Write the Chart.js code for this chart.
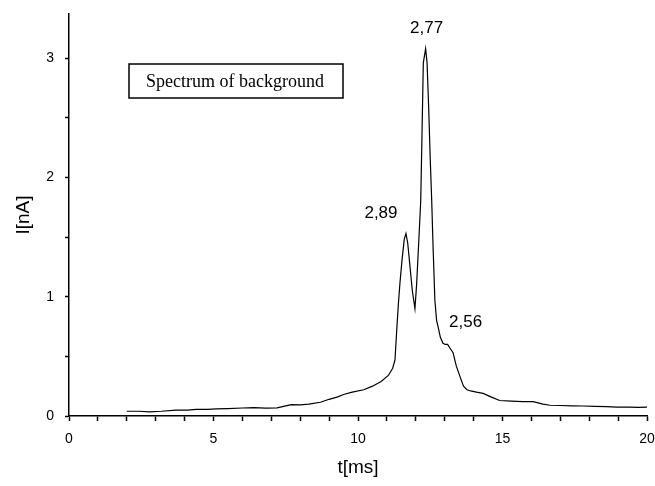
<!DOCTYPE html>
<html>
<head>
<meta charset="utf-8">
<script src="https://cdn.jsdelivr.net/npm/chart.js@4/dist/chart.umd.min.js"></script>
<style>
  html, body { margin: 0; padding: 0; background: #fff; }
  #wrap { width: 655px; height: 486px; }
</style>
</head>
<body>
<div id="wrap"><canvas id="c" width="655" height="486"></canvas></div>
<script>
// time axis values (ms)
const tValues = [2.0,2.4,2.8,3.2,3.7,4.1,4.4,4.8,5.1,5.5,6.0,6.4,6.8,7.2,7.5,7.7,8.0,8.3,8.7,9.0,9.3,9.5,9.8,10.2,10.5,10.8,11.05,11.2,11.28,11.34,11.4,11.45,11.52,11.6,11.66,11.72,11.8,11.88,11.97,12.03,12.1,12.17,12.21,12.26,12.34,12.39,12.45,12.5,12.55,12.6,12.66,12.72,12.77,12.85,12.94,13.02,13.1,13.18,13.29,13.4,13.53,13.65,13.77,13.9,14.1,14.33,14.6,14.9,15.3,15.7,16.06,16.4,16.64,17.0,17.4,17.8,18.2,18.6,18.96,19.4,19.7,20.0];
// current values (nA)
const iValues = [0.04,0.04,0.035,0.04,0.05,0.05,0.056,0.055,0.06,0.062,0.067,0.07,0.066,0.068,0.085,0.095,0.094,0.1,0.115,0.14,0.16,0.18,0.2,0.22,0.25,0.29,0.34,0.4,0.47,0.72,0.95,1.11,1.3,1.48,1.53,1.45,1.25,1.05,0.9,1.11,1.45,1.8,2.3,2.96,3.08,2.96,2.55,2.15,1.81,1.4,0.97,0.8,0.75,0.66,0.61,0.6,0.6,0.57,0.53,0.42,0.33,0.25,0.22,0.21,0.2,0.19,0.16,0.13,0.125,0.12,0.12,0.1,0.09,0.088,0.085,0.084,0.08,0.078,0.075,0.075,0.072,0.075];
// peak annotations
const peakLabels = ['2,77','2,89','2,56'];
const peakT = [12.34, 11.66, 13.1];
const peakI = [3.08, 1.53, 0.60];
// tick values
const xTickValues = [0,1,2,3,4,5,6,7,8,9,10,11,12,13,14,15,16,17,18,19,20];
const xTickLabelValues = [0,5,10,15,20];
const yTickValues = [0,0.5,1,1.5,2,2.5,3];
const yTickLabelValues = [0,1,2,3];
const legendText = 'Spectrum of background';

const points = tValues.map((t, i) => ({x: t, y: iValues[i]}));
const peakOffsets = [[1, -20], [-25, -20], [18, -22]];

const annotPlugin = {
  id: 'annot',
  afterDatasetsDraw(chart) {
    const ctx = chart.ctx;
    const xs = chart.scales.x, ys = chart.scales.y;
    ctx.save();
    ctx.fillStyle = '#000';
    ctx.font = '17px "Liberation Sans", Arial, sans-serif';
    ctx.textAlign = 'center';
    ctx.textBaseline = 'middle';
    peakLabels.forEach((lab, i) => {
      const px = xs.getPixelForValue(peakT[i]) + peakOffsets[i][0];
      const py = ys.getPixelForValue(peakI[i]) + peakOffsets[i][1];
      ctx.fillText(lab, px, py);
    });
    // legend box
    const bx = 129, by = 64, bw = 214, bh = 34;
    ctx.lineWidth = 1.5;
    ctx.strokeStyle = '#000';
    ctx.strokeRect(bx, by, bw, bh);
    ctx.font = '18px "Liberation Serif", "Times New Roman", serif';
    ctx.fillText(legendText, bx + bw / 2 - 1, by + bh / 2 + 1);
    ctx.restore();
  }
};

new Chart(document.getElementById('c'), {
  type: 'line',
  data: {
    datasets: [{
      data: points,
      borderColor: '#000',
      borderWidth: 1.2,
      pointRadius: 0,
      tension: 0,
      fill: false
    }]
  },
  options: {
    responsive: false,
    animation: false,
    events: [],
    layout: { padding: { top: 14, right: 8, left: 0, bottom: 0 } },
    plugins: { legend: { display: false }, tooltip: { enabled: false } },
    scales: {
      x: {
        type: 'linear',
        min: 0, max: 20,
        afterFit(s) { s.height = 70; s.paddingRight = 0; s.paddingLeft = 0; },
        afterBuildTicks(s) { s.ticks = xTickValues.map(v => ({value: v})); },
        grid: { drawOnChartArea: false, drawTicks: true, tickLength: 5, color: '#000', tickWidth: 1.5 },
        border: { display: true, color: '#000', width: 1.5 },
        ticks: {
          color: '#000',
          padding: 10,
          maxRotation: 0,
          autoSkip: false,
          font: { family: '"Liberation Sans", Arial, sans-serif', size: 14 },
          callback: v => xTickLabelValues.includes(v) ? String(v) : ''
        },
        title: {
          display: true, text: 't[ms]', color: '#000',
          font: { family: '"Liberation Sans", Arial, sans-serif', size: 19 },
          padding: { top: 0, bottom: 7 }
        }
      },
      y: {
        type: 'linear',
        min: 0, max: 3.37,
        afterFit(s) { s.width = 69; s.paddingTop = 0; s.paddingBottom = 0; },
        afterBuildTicks(s) { s.ticks = yTickValues.map(v => ({value: v})); },
        grid: { drawOnChartArea: false, drawTicks: true, tickLength: 4, color: '#000', tickWidth: 1.5 },
        border: { display: true, color: '#000', width: 1.5 },
        ticks: {
          color: '#000',
          padding: 11,
          autoSkip: false,
          font: { family: '"Liberation Sans", Arial, sans-serif', size: 14 },
          callback: v => yTickLabelValues.includes(v) ? String(v) : ''
        },
        title: {
          display: true, text: 'I[nA]', color: '#000',
          font: { family: '"Liberation Sans", Arial, sans-serif', size: 19 },
          padding: { top: 12, bottom: 0 }
        }
      }
    }
  },
  plugins: [annotPlugin]
});
</script>
</body>
</html>
